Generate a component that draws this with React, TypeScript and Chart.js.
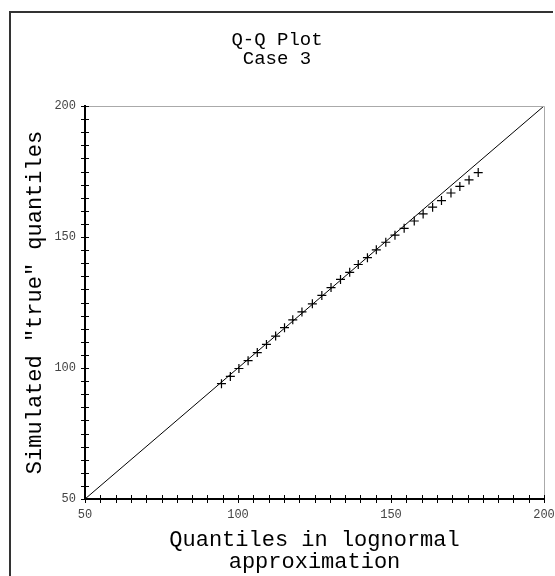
import React, { useEffect, useRef } from "react";
import { Chart, registerables } from "chart.js";

Chart.register(...registerables);

const titleLines = ["Q-Q Plot", "Case 3"];
const xTitleLines = ["Quantiles in lognormal", "approximation"];
const yTitle = 'Simulated "true" quantiles';

const axisMin = 50;
const axisMax = 200;
const minorStep = 5;
const labelledTicks = [50, 100, 150, 200];

// x: quantiles in lognormal approximation
const lognormalQuantiles = [
  94.6, 97.5, 100.3, 103.3, 106.3, 109.3, 112.3, 115.2, 117.9, 120.9,
  124.3, 127.4, 130.4, 133.5, 136.5, 139.3, 142.3, 145.2, 148.3, 151.3,
  154.3, 157.6, 160.5, 163.6, 166.5, 169.6, 172.5, 175.5, 178.5,
];
// y: simulated "true" quantiles
const simulatedQuantiles = [
  94.0, 96.8, 99.8, 102.8, 105.9, 109.0, 112.2, 115.4, 118.4, 121.4,
  124.5, 127.7, 130.7, 133.8, 136.5, 139.5, 142.1, 145.1, 148.0, 150.7,
  153.3, 156.1, 158.8, 161.4, 163.9, 166.8, 169.3, 171.8, 174.6,
];
// reference line y = x
const referenceLine = [50, 200];

const MONO = "'Liberation Mono', 'DejaVu Sans Mono', monospace";

const decor = {
  id: "decor",
  beforeDraw(chart: any) {
    const ctx = chart.ctx;
    ctx.save();
    ctx.fillStyle = "#fff";
    ctx.fillRect(0, 0, chart.width, chart.height);
    ctx.restore();
  },
  afterDraw(chart: any) {
    const { ctx, chartArea: a } = chart;
    const xs = chart.scales.x;
    const ys = chart.scales.y;
    ctx.save();
    // outer frame (left and top edges)
    ctx.strokeStyle = "#333";
    ctx.lineWidth = 2;
    ctx.beginPath();
    ctx.moveTo(10, chart.height + 2);
    ctx.lineTo(10, 12);
    ctx.lineTo(553, 12);
    ctx.stroke();
    // top & right light frame of plot
    ctx.strokeStyle = "#aaa";
    ctx.lineWidth = 1;
    ctx.beginPath();
    ctx.moveTo(a.left, a.top + 0.5);
    ctx.lineTo(a.right + 0.5, a.top + 0.5);
    ctx.lineTo(a.right + 0.5, a.bottom);
    ctx.stroke();
    // crossing tick marks
    ctx.strokeStyle = "#000";
    ctx.lineWidth = 1;
    ctx.beginPath();
    xs.ticks.forEach((t: any) => {
      const px = Math.round(xs.getPixelForValue(t.value)) + 0.5;
      ctx.moveTo(px, a.bottom - 4);
      ctx.lineTo(px, a.bottom + 4);
    });
    ys.ticks.forEach((t: any) => {
      const py = Math.round(ys.getPixelForValue(t.value)) + 0.5;
      ctx.moveTo(a.left - 4, py);
      ctx.lineTo(a.left + 4, py);
    });
    ctx.stroke();
    // texts
    ctx.fillStyle = "#000";
    ctx.textAlign = "center";
    ctx.textBaseline = "middle";
    ctx.font = `19px ${MONO}`;
    titleLines.forEach((s, i) => ctx.fillText(s, 277, 40 + i * 19));
    ctx.font = `22px ${MONO}`;
    const cx = (a.left + a.right) / 2;
    xTitleLines.forEach((s, i) => ctx.fillText(s, cx, 540 + i * 22));
    ctx.save();
    ctx.translate(35, (a.top + a.bottom) / 2);
    ctx.rotate(-Math.PI / 2);
    ctx.fillText(yTitle, 0, 0);
    ctx.restore();
    ctx.restore();
  },
};

export default function App() {
  const ref = useRef<HTMLCanvasElement | null>(null);
  useEffect(() => {
    if (!ref.current) return;
    const tickCb = (v: any) => (labelledTicks.includes(Number(v)) ? String(v) : "");
    const tickFont = { family: MONO, size: 12 };
    const chart = new Chart(ref.current, {
      type: "scatter",
      data: {
        datasets: [
          {
            data: lognormalQuantiles.map((x, i) => ({ x, y: simulatedQuantiles[i] })),
            pointStyle: "cross",
            pointRadius: 4.5,
            borderColor: "#000",
            backgroundColor: "#000",
            borderWidth: 1.2,
          },
          {
            type: "line",
            data: referenceLine.map((v) => ({ x: v, y: v })),
            borderColor: "#000",
            borderWidth: 1,
            pointRadius: 0,
            fill: false,
          } as any,
        ],
      },
      options: {
        animation: false,
        responsive: false,
        devicePixelRatio: 1,
        layout: { padding: { left: 0, right: 11, top: 106, bottom: 0 } },
        plugins: { legend: { display: false }, tooltip: { enabled: false }, title: { display: false } },
        scales: {
          x: {
            type: "linear",
            min: axisMin,
            max: axisMax,
            grid: { display: false, drawTicks: false },
            border: { display: true, color: "#000", width: 2 },
            ticks: { stepSize: minorStep, autoSkip: false, maxRotation: 0, padding: 9, color: "#444", font: tickFont, callback: tickCb },
            afterFit: (s: any) => { s.height = 77; s.paddingLeft = 0; s.paddingRight = 0; },
          },
          y: {
            type: "linear",
            min: axisMin,
            max: axisMax,
            grid: { display: false, drawTicks: false },
            border: { display: true, color: "#000", width: 2 },
            ticks: { stepSize: minorStep, autoSkip: false, padding: 9, color: "#444", font: tickFont, callback: tickCb },
            afterFit: (s: any) => { s.width = 85; s.paddingTop = 0; s.paddingBottom = 0; },
          },
        },
      },
      plugins: [decor],
    });
    return () => chart.destroy();
  }, []);
  return (
    <canvas
      ref={ref}
      width={555}
      height={576}
      style={{ position: "absolute", left: 0, top: 0, width: 555, height: 576, display: "block" }}
    />
  );
}
